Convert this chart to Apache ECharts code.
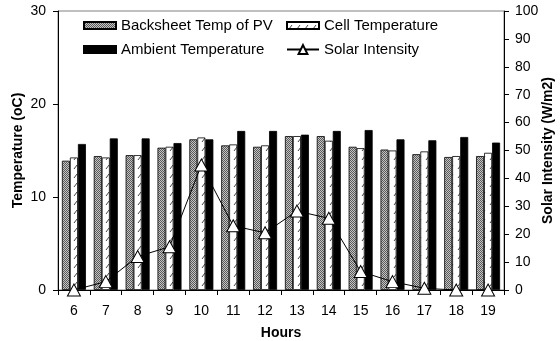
<!DOCTYPE html>
<html><head><meta charset="utf-8">
<script src="https://cdn.jsdelivr.net/npm/echarts@6/dist/echarts.min.js"></script>
<style>html,body{margin:0;padding:0;background:#fff}#c{width:560px;height:341px}</style>
</head><body><div id="c"></div>
<script>
var hours = ['6','7','8','9','10','11','12','13','14','15','16','17','18','19'];
var backsheetTemp = [13.9, 14.4, 14.5, 15.3, 16.2, 15.55, 15.4, 16.55, 16.55, 15.4, 15.1, 14.6, 14.3, 14.4];
var cellTemp = [14.25, 14.25, 14.5, 15.4, 16.4, 15.65, 15.55, 16.55, 16.05, 15.25, 15.0, 14.9, 14.4, 14.75];
var ambientTemp = [15.7, 16.3, 16.3, 15.8, 16.2, 17.1, 17.1, 16.7, 17.1, 17.2, 16.2, 16.1, 16.45, 15.85];
var solarIntensity = [0, 3, 12, 15.5, 44.8, 23, 20.5, 28.3, 25.7, 6.6, 3, 0.6, 0, 0];

function makeDots(){
  var c=document.createElement('canvas');c.width=4;c.height=4;var g=c.getContext('2d');
  g.fillStyle='#c4c4c4';g.fillRect(0,0,4,4);
  g.fillStyle='#5a5a5a';
  for(var y=0;y<4;y++)for(var x=0;x<4;x++){if((x+y)%2===0)g.fillRect(x,y,1,1);}
  return c;
}
function makeHatch(){
  var c=document.createElement('canvas');c.width=8;c.height=9;var g=c.getContext('2d');
  g.fillStyle='#ffffff';g.fillRect(0,0,8,9);
  g.strokeStyle='#444';g.lineWidth=1;
  g.beginPath();g.moveTo(2,7);g.lineTo(5,3);g.stroke();
  return c;
}
var dotPat={image:makeDots(),repeat:'repeat'};
var hatchPat={image:makeHatch(),repeat:'repeat'};
var font='Liberation Sans, Arial, sans-serif';
var chart=echarts.init(document.getElementById('c'),null,{renderer:'canvas'});
function lg(name,left,top,extra){
  return Object.assign({data:[{name:name,icon:'rect'}],left:left,top:top,itemWidth:32,itemHeight:7,itemGap:0,padding:0,
    textStyle:{fontFamily:font,fontSize:15,color:'#000'},selectedMode:false},extra||{});
}
chart.setOption({
  animation:false,
  backgroundColor:'#fff',
  grid:{left:58,right:56,top:11,bottom:51,outerBoundsMode:'none',containLabel:false,show:true,borderColor:'#808080',borderWidth:1},
  legend:[
    lg('Backsheet Temp of PV',83,18),
    lg('Cell Temperature',286,18),
    lg('Ambient Temperature',83,42),
    {data:['Solar Intensity'],left:286,top:42,itemWidth:32,itemHeight:11,itemGap:0,padding:0,
     textStyle:{fontFamily:font,fontSize:15,color:'#000'},selectedMode:false}
  ],
  xAxis:{type:'category',data:hours,name:'Hours',nameLocation:'middle',nameGap:36,nameMoveOverlap:false,
    nameTextStyle:{fontFamily:font,fontSize:14,fontWeight:'bold',color:'#000'},
    axisLine:{lineStyle:{color:'#000',width:1}},
    axisTick:{show:true,length:5,lineStyle:{color:'#000'}},
    axisLabel:{fontFamily:font,fontSize:14,color:'#000',margin:14}},
  yAxis:[
    {type:'value',min:0,max:30,interval:10,name:'Temperature (oC)',nameLocation:'middle',nameGap:33,nameRotate:90,nameMoveOverlap:false,
     nameTextStyle:{fontFamily:font,fontSize:14,fontWeight:'bold',color:'#000'},
     axisLine:{show:true,lineStyle:{color:'#000'}},axisTick:{show:true,length:5,lineStyle:{color:'#000'}},
     splitLine:{show:false},axisLabel:{fontFamily:font,fontSize:14,color:'#000',margin:12}},
    {type:'value',min:0,max:100,interval:10,name:'Solar Intensity (W/m2)',nameLocation:'middle',nameGap:37,nameRotate:90,nameMoveOverlap:false,
     nameTextStyle:{fontFamily:font,fontSize:14,fontWeight:'bold',color:'#000'},
     axisLine:{show:true,lineStyle:{color:'#000'}},axisTick:{show:true,length:5,lineStyle:{color:'#000'}},
     splitLine:{show:false},axisLabel:{fontFamily:font,fontSize:14,color:'#000',margin:11}}
  ],
  series:[
    {name:'Backsheet Temp of PV',type:'bar',data:backsheetTemp,barWidth:8,barGap:'0%',
     itemStyle:{color:dotPat,borderColor:'#000',borderWidth:0.8}},
    {name:'Cell Temperature',type:'bar',data:cellTemp,barWidth:8,barGap:'0%',
     itemStyle:{color:hatchPat,borderColor:'#000',borderWidth:0.8}},
    {name:'Ambient Temperature',type:'bar',data:ambientTemp,barWidth:8,barGap:'0%',
     itemStyle:{color:'#000',borderColor:'#000',borderWidth:0.8}},
    {name:'Solar Intensity',type:'line',yAxisIndex:1,data:solarIntensity,symbol:'triangle',symbolSize:[13,12],
     lineStyle:{color:'#000',width:1},itemStyle:{color:'#fff',borderColor:'#000',borderWidth:1},z:5}
  ]
});
</script></body></html>
